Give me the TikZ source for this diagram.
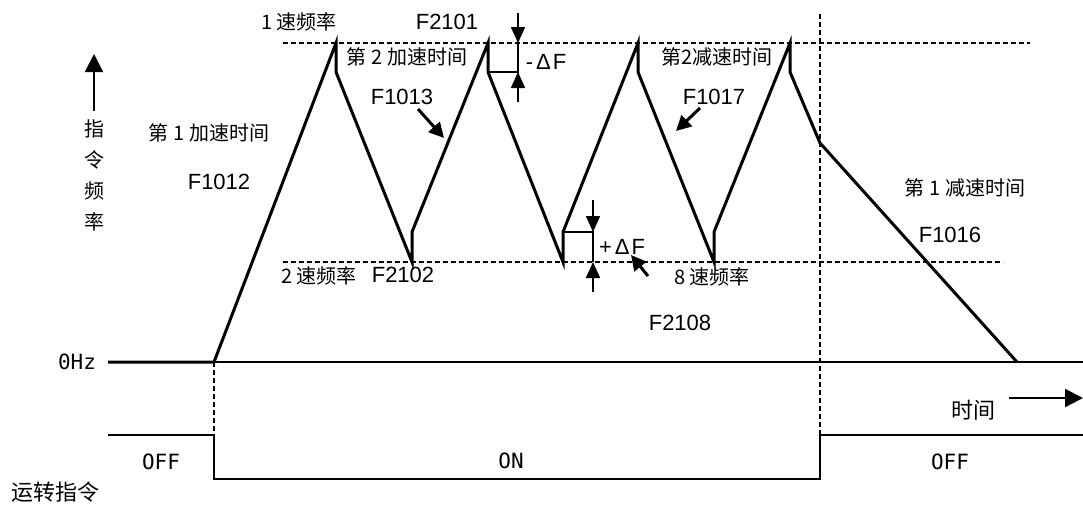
\documentclass[tikz,border=0pt]{standalone}
\usepackage{fontspec}
\newfontfamily\cjk{Noto Sans CJK SC}
\newfontfamily\latf{Liberation Sans}
\newfontfamily\monof{DejaVu Sans Mono}
\usetikzlibrary{arrows.meta}
\begin{document}
\begin{tikzpicture}[x=1pt,y=-1pt,
  wave/.style={line width=3pt,line join=miter},
  guide/.style={line width=1.4pt,dash pattern=on 5pt off 3pt},
  sig/.style={line width=2.4pt},
  thin/.style={line width=2pt},
  cn/.style={font=\cjk\fontsize{20}{24}\selectfont,inner sep=0pt},
  cnbig/.style={font=\cjk\fontsize{22}{26}\selectfont,inner sep=0pt},
  lat/.style={font=\latf\fontsize{22}{26}\selectfont,inner sep=0pt},
  mono/.style={font=\monof\fontsize{21}{24}\selectfont,inner sep=0pt},
  darr/.style={line width=1.6pt,-{Triangle[length=16pt,width=14pt]}},
  parr/.style={line width=3pt,-{Triangle[length=15pt,width=15pt]}},
  aarr/.style={line width=2.2pt,-{Triangle[length=18pt,width=18pt]}}]
\useasboundingbox (0,0) rectangle (1083,504);
% named coordinates
\coordinate (z0) at (108,362);
\coordinate (s0) at (214,362);
\coordinate (zend) at (1083,362);
\coordinate (p1) at (336,43);  \coordinate (p1b) at (336,72);
\coordinate (v1) at (412,262); \coordinate (v1b) at (412,232);
\coordinate (p2) at (488,43);  \coordinate (p2b) at (488,72);
\coordinate (v2) at (563,262); \coordinate (v2b) at (563,232);
\coordinate (p3) at (638,43);  \coordinate (p3b) at (638,72);
\coordinate (v3) at (714,262); \coordinate (v3b) at (714,232);
\coordinate (p4) at (790,43);  \coordinate (p4b) at (790,72);
\coordinate (k) at (820,143);
\coordinate (e) at (1017,362);
% guides
\coordinate (tl) at (283,43);  \coordinate (tr) at (1030,43);
\coordinate (bl) at (283,262); \coordinate (br) at (1003,262);
\coordinate (vt) at (820,14);  \coordinate (vb) at (820,435);
\coordinate (ut) at (214,362); \coordinate (ub) at (214,435);
\draw[guide] (tl) -- (tr);
\draw[guide] (bl) -- (br);
\draw[guide] (vt) -- (vb);
\draw[guide] (ut) -- (ub);
% 0 Hz line
\draw[thin] (s0) -- (zend);
% waveform
\draw[wave] (z0) -- (s0) -- (p1) -- (p1b) -- (v1) -- (v1b) -- (p2) -- (p2b) -- (v2) -- (v2b) -- (p3) -- (p3b) -- (v3) -- (v3b) -- (p4) -- (p4b) -- (k) -- (e);
% run signal
\coordinate (r0) at (108,435); \coordinate (r1) at (214,435);
\coordinate (r2) at (214,479); \coordinate (r3) at (820,479);
\coordinate (r4) at (820,435); \coordinate (r5) at (1083,435);
\draw[sig] (r0) -- (r1) -- (r2) -- (r3) -- (r4) -- (r5);
% delta F boxes
\coordinate (b1a) at (518,72); \coordinate (b1b) at (518,43);
\coordinate (b2a) at (593,232); \coordinate (b2b) at (593,262);
\draw[line width=2pt] (p2b) -- (b1a) -- (b1b);
\draw[line width=2pt] (v2b) -- (b2a) -- (b2b);
\coordinate (a1s) at (518,13); \coordinate (a2s) at (518,102);
\coordinate (a3s) at (593,200); \coordinate (a4s) at (593,292);
\draw[darr] (a1s) -- (b1b);
\draw[darr] (a2s) -- (b1a);
\draw[darr] (a3s) -- (b2a);
\draw[darr] (a4s) -- (b2b);
% pointer arrows
\coordinate (q1s) at (418,109); \coordinate (q1e) at (444,138);
\coordinate (q2s) at (700,108); \coordinate (q2e) at (676,131);
\coordinate (q3s) at (648,276); \coordinate (q3e) at (631,255);
\draw[parr] (q1s) -- (q1e);
\draw[parr] (q2s) -- (q2e);
\draw[parr] (q3s) -- (q3e);
% axis arrows
\coordinate (ya) at (94,111); \coordinate (yb) at (94,54);
\coordinate (ta) at (1009,398); \coordinate (tb) at (1083,398);
\draw[aarr] (ya) -- (yb);
\draw[aarr] (ta) -- (tb);
% labels
\node[cn] (l1) at (299,22) {1 速频率};
\node[lat] (l2) at (447,22) {F2101};
\node[cn] (l3) at (407,57) {第 2 加速时间};
\node[lat] (l4) at (402,97) {F1013};
\node[lat] (l5) at (546,62) {-\hspace{3pt}Δ\hspace{2pt}F};
\node[cn] (l6) at (717,57) {第2减速时间};
\node[lat] (l7) at (714,97) {F1017};
\node[cn] (l8) at (209,133) {第 1 加速时间};
\node[lat] (l9) at (219,182) {F1012};
\node[cn,align=center] (l10) at (94,175) {指\\[7pt]令\\[7pt]频\\[7pt]率};
\node[cn] (l11) at (319,276) {2 速频率};
\node[lat] (l12) at (403,275) {F2102};
\node[lat] (l13) at (622,247) {+\hspace{3pt}Δ\hspace{2pt}F};
\node[cn] (l14) at (712,277) {8 速频率};
\node[lat] (l15) at (680,323) {F2108};
\node[cn] (l16) at (965,188) {第 1 减速时间};
\node[lat] (l17) at (950,235) {F1016};
\node[mono] (l18) at (77,362) {0Hz};
\node[cnbig] (l19) at (973,410) {时间};
\node[mono] (l20) at (161,462) {OFF};
\node[mono] (l21) at (511,461) {ON};
\node[mono] (l22) at (950,462) {OFF};
\node[cnbig] (l23) at (55,492) {运转指令};
\end{tikzpicture}
\end{document}
